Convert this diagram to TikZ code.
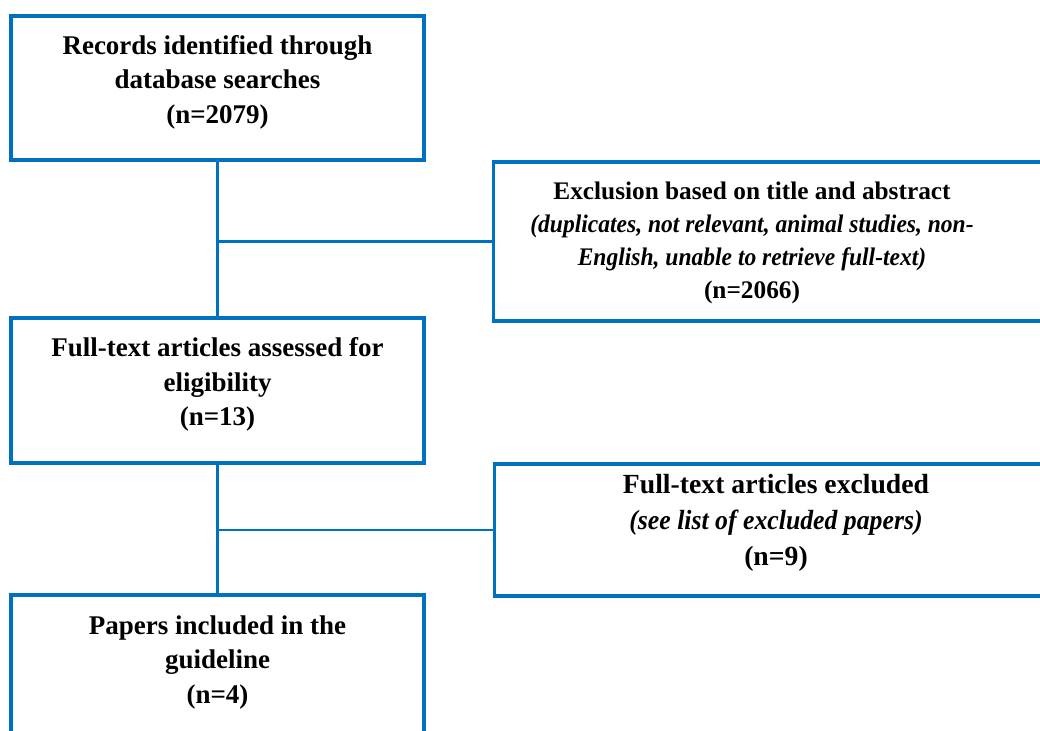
\documentclass[tikz,border=0pt]{standalone}
\usepackage{fontspec}
\setmainfont{Liberation Serif}
\newfontfamily\noteit[FakeStretch=0.93]{Liberation Serif}
\usepackage{xcolor}
\usetikzlibrary{positioning, calc}
\definecolor{flowblue}{RGB}{0,112,192}

\begin{document}
\begin{tikzpicture}[
            box/.style={rectangle, draw=flowblue, line width=2.4pt, minimum width=10.325cm, minimum height=3.6cm, align=center, text depth=12.5pt, font={\fontsize{19.2}{24.5}\selectfont\bfseries}},
            sidebox/.style={rectangle, draw=flowblue, line width=2.4pt, minimum width=16cm, anchor=west},
            boxtext/.style={align=center},
            link/.style={draw=flowblue, line width=1.5pt}
        ]

% Frame
            \clip (0,0) rectangle (26,18.275);

% Main column
            \node[box] (records) at (5.4375,16.075) {Records identified through\\database searches\\(n=2079)};
            \node[box, minimum height=3.625cm] (assessed) at (5.4375,8.5125) {Full-text articles assessed for\\eligibility\\(n=13)};
            \node[box, minimum height=3.65cm] (included) at (5.4375,1.575) {Papers included in the\\guideline\\(n=4)};

% Exclusion boxes
            \node[sidebox, minimum height=3.975cm] (screened) at (12.3,12.2375) {};
            \node[boxtext, font={\fontsize{18}{23.5}\selectfont\bfseries}] (screenedtext) at (18.8,12.2) {Exclusion based on title and abstract\\{\noteit\itshape(duplicates, not relevant, animal studies, non-}\\{\noteit\itshape English, unable to retrieve full-text)}\\(n=2066)};
            \node[sidebox, minimum height=3.3cm] (fulltext) at (12.325,5.025) {};
            \node[boxtext, font={\fontsize{19.7}{25.5}\selectfont\bfseries}] (fulltexttext) at (19.4,5.2) {Full-text articles excluded\\{\noteit\itshape(see list of excluded papers)}\\(n=9)};

% Connectors
            \draw[link] (records) -- (assessed);
            \draw[link] (assessed) -- (included);
            \draw[link] (screened.west) -- (screened.west -| records.south);
            \draw[link] (fulltext.west) -- (fulltext.west -| assessed.south);

        \end{tikzpicture}
\end{document}
